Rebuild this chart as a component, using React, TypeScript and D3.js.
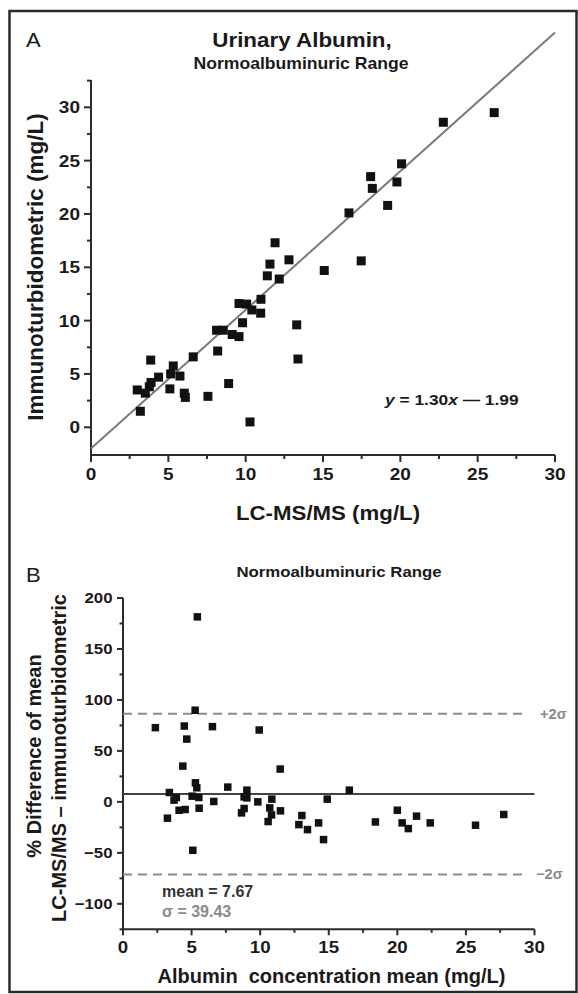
import React from 'react';
import * as d3 from 'd3';

// Panel A: LC-MS/MS vs immunoturbidometric (mg/L)
const aLcms = [2.99, 3.19, 3.51, 3.77, 3.88, 3.86, 4.37, 5.1, 5.15, 5.32, 5.75, 6.03, 6.1, 6.61, 7.56, 8.12, 8.19, 8.55, 8.9, 9.13, 9.57, 9.57, 9.8, 10.06, 10.28, 10.4, 10.97, 10.99, 11.4, 11.57, 11.9, 12.17, 12.8, 13.3, 13.38, 15.08, 16.68, 17.47, 18.08, 18.19, 19.18, 19.78, 20.08, 22.78, 26.07];
const aImmuno = [3.5, 1.5, 3.2, 3.8, 4.2, 6.3, 4.7, 3.6, 5.0, 5.75, 4.8, 3.2, 2.8, 6.6, 2.9, 9.1, 7.15, 9.1, 4.1, 8.7, 8.5, 11.6, 9.8, 11.55, 0.5, 11.0, 10.7, 12.0, 14.2, 15.3, 17.3, 13.9, 15.7, 9.6, 6.4, 14.7, 20.1, 15.6, 23.5, 22.4, 20.8, 23.0, 24.7, 28.6, 29.5];
const slope = 1.3;
const intercept = -1.99;

// Panel B: Bland-Altman
const bMean = [2.36, 3.24, 3.38, 3.72, 3.89, 4.09, 4.36, 4.47, 4.53, 4.65, 5.04, 5.09, 5.26, 5.28, 5.38, 5.53, 5.55, 5.42, 6.52, 6.62, 7.64, 8.64, 8.83, 8.83, 9.03, 9.03, 9.83, 9.93, 10.58, 10.7, 10.83, 10.85, 11.46, 11.48, 12.82, 13.04, 13.45, 14.26, 14.62, 14.89, 16.5, 18.4, 20.0, 20.35, 20.8, 21.4, 22.4, 25.7, 27.76];
const bDiff = [72.8, -16, 9.2, 1.7, 4.3, -8.2, 35.1, 74.4, -7.5, 61.6, 5.6, -47.5, 89.9, 18.7, 13.8, 4.3, -6.2, 181.5, 73.8, 0.4, 14.5, -10.8, 4.9, -6.5, 11.5, 3.9, 0, 70.5, -19.3, -5.9, -12.8, 2.7, 32.2, -8.8, -22.3, -13.4, -27.2, -20.6, -37, 2.7, 11.5, -19.7, -8.2, -20.6, -26.2, -14, -20.6, -22.9, -12.4];
const meanDiff = 7.67;
const sigma = 39.43;

const aXTicks = [0, 5, 10, 15, 20, 25, 30];
const aYTicks = [0, 5, 10, 15, 20, 25, 30];
const bXTicks = [0, 5, 10, 15, 20, 25, 30];
const bYTicks = [-100, -50, 0, 50, 100, 150, 200];

const FONT = '"Liberation Sans", Arial, Helvetica, sans-serif';

type TP = { x: number; y: number; s: number; k?: number; w?: string; anchor?: string; fill?: string; rot?: number; dy?: string; children?: any; pre?: boolean };
const T = ({ x, y, s, k = 1, w = 'bold', anchor = 'start', fill = '#1a1a1a', rot = 0, dy, children, pre }: TP) => (
  <text
    transform={`translate(${x},${y})${rot ? ` rotate(${rot})` : ''} scale(${k},1)`}
    fontSize={s}
    fontWeight={w}
    textAnchor={anchor as any}
    fill={fill}
    fontFamily={FONT}
    dy={dy}
    style={pre ? { whiteSpace: 'pre' } : undefined}
  >
    {children}
  </text>
);

export default function App() {
  const ax = d3.scaleLinear().domain([0, 30]).range([91, 555]);
  const ay = d3.scaleLinear().domain([-2.6, 32.56]).range([455, 80]);
  const bx = d3.scaleLinear().domain([0, 30]).range([123, 534.5]);
  const by = d3.scaleLinear().domain([-125, 200]).range([929.3, 598]);

  const axisColor = '#2b2b2b';
  const aXMinor = d3.range(0, 30.01, 2.5).filter((v) => !aXTicks.includes(v));
  const aYMinor = d3.range(0, 32.51, 2.5).filter((v) => !aYTicks.includes(v));
  const bXMinor = d3.range(0, 30.01, 2.5).filter((v) => !bXTicks.includes(v));
  const bYMinor = d3.range(-125, 200.01, 25).filter((v) => !bYTicks.includes(v));

  const regLine = d3.line()([
    [ax(0), ay(intercept)],
    [ax(30), ay(slope * 30 + intercept)],
  ]) as string;

  const aS = 9;
  const bS = 7.5;
  const up = meanDiff + 2 * sigma;
  const lo = meanDiff - 2 * sigma;

  return (
    <svg width={578} height={994} style={{ position: 'absolute', left: 0, top: 0, background: '#fff' }}>
      <rect x={0} y={0} width={578} height={994} fill="#fff" />
      <rect x={9.5} y={11} width={567} height={981} fill="none" stroke="#2a2a2a" strokeWidth={2.5} />

      {/* ---------- Panel A ---------- */}
      <T x={26} y={47} s={21} w="normal" k={1.05}>A</T>
      <T x={302} y={47} s={20} k={1.12} anchor="middle">Urinary Albumin,</T>
      <T x={301} y={68.5} s={16} k={1.1} anchor="middle">Normoalbuminuric Range</T>

      {/* axes */}
      <line x1={ax(0)} x2={ax(0)} y1={ay.range()[1]} y2={ay.range()[0]} stroke={axisColor} strokeWidth={2} />
      <line x1={ax(0)} x2={ax(30)} y1={ay.range()[0]} y2={ay.range()[0]} stroke={axisColor} strokeWidth={2} />
      {aXTicks.map((t) => (
        <g key={'axt' + t}>
          <line x1={ax(t)} x2={ax(t)} y1={455} y2={462} stroke={axisColor} strokeWidth={2} />
          <T x={ax(t)} y={480} s={17} k={1.12} anchor="middle">{t}</T>
        </g>
      ))}
      {aXMinor.map((t) => (
        <line key={'axm' + t} x1={ax(t)} x2={ax(t)} y1={455} y2={459} stroke={axisColor} strokeWidth={2} />
      ))}
      {aYTicks.map((t) => (
        <g key={'ayt' + t}>
          <line x1={ax(0) - 7} x2={ax(0)} y1={ay(t)} y2={ay(t)} stroke={axisColor} strokeWidth={2} />
          <T x={80} y={ay(t)} dy="0.36em" s={17} k={1.12} anchor="end">{t}</T>
        </g>
      ))}
      {aYMinor.map((t) => (
        <line key={'aym' + t} x1={ax(0) - 4} x2={ax(0)} y1={ay(t)} y2={ay(t)} stroke={axisColor} strokeWidth={2} />
      ))}
      <T x={328} y={520} s={21} k={1.06} anchor="middle">LC-MS/MS (mg/L)</T>
      <T x={43} y={267} s={22.5} rot={-90} anchor="middle">Immunoturbidometric (mg/L)</T>

      <path d={regLine} stroke="#7a7a7a" strokeWidth={2} fill="none" />
      {aLcms.map((v, i) => (
        <rect key={'ap' + i} x={ax(v) - aS / 2} y={ay(aImmuno[i]) - aS / 2} width={aS} height={aS} fill="#111" />
      ))}
      <T x={385} y={405} s={15.5} k={1.12}>
        <tspan fontStyle="italic">y</tspan> = 1.30<tspan fontStyle="italic">x</tspan> — 1.99
      </T>

      {/* ---------- Panel B ---------- */}
      <T x={26} y={582} s={21} w="normal" k={1.05}>B</T>
      <T x={339} y={577} s={15} k={1.12} anchor="middle">Normoalbuminuric Range</T>

      <line x1={bx(0)} x2={bx(0)} y1={by(200)} y2={by(-125)} stroke={axisColor} strokeWidth={2} />
      <line x1={bx(0)} x2={bx(30)} y1={by(-125)} y2={by(-125)} stroke={axisColor} strokeWidth={2} />
      {bXTicks.map((t) => (
        <g key={'bxt' + t}>
          <line x1={bx(t)} x2={bx(t)} y1={by(-125)} y2={by(-125) + 6} stroke={axisColor} strokeWidth={2} />
          <T x={bx(t)} y={953} s={17} k={1.1} anchor="middle">{t}</T>
        </g>
      ))}
      {bXMinor.map((t) => (
        <line key={'bxm' + t} x1={bx(t)} x2={bx(t)} y1={by(-125)} y2={by(-125) + 3.5} stroke={axisColor} strokeWidth={2} />
      ))}
      {bYTicks.map((t) => (
        <g key={'byt' + t}>
          <line x1={bx(0) - 6} x2={bx(0)} y1={by(t)} y2={by(t)} stroke={axisColor} strokeWidth={2} />
          <T x={112.5} y={by(t)} dy="0.36em" s={15} k={1.12} anchor="end">{t < 0 ? '\u2212' + Math.abs(t) : t}</T>
        </g>
      ))}
      {bYMinor.map((t) => (
        <line key={'bym' + t} x1={bx(0) - 3.5} x2={bx(0)} y1={by(t)} y2={by(t)} stroke={axisColor} strokeWidth={2} />
      ))}

      <line x1={bx(0)} x2={bx(29.5)} y1={by(up)} y2={by(up)} stroke="#8a8a8a" strokeWidth={2} strokeDasharray="9,6" />
      <line x1={bx(0)} x2={bx(29.5)} y1={by(lo)} y2={by(lo)} stroke="#8a8a8a" strokeWidth={2} strokeDasharray="9,6" />
      <line x1={bx(0)} x2={bx(30)} y1={by(meanDiff)} y2={by(meanDiff)} stroke="#444" strokeWidth={2} />
      <T x={bx(30) + 5.5} y={by(up)} dy="0.36em" s={14} k={1.05} fill="#8a8a8a">+2σ</T>
      <T x={bx(30) + 1.5} y={by(lo)} dy="0.36em" s={14} k={1.05} fill="#8a8a8a">−2σ</T>

      {bMean.map((v, i) => (
        <rect key={'bp' + i} x={bx(v) - bS / 2} y={by(bDiff[i]) - bS / 2} width={bS} height={bS} fill="#111" />
      ))}

      <T x={162} y={897} s={16} fill="#333">mean = {meanDiff.toFixed(2)}</T>
      <T x={162} y={917} s={16} fill="#8a8a8a">σ = {sigma.toFixed(2)}</T>

      <T x={331.5} y={983} s={20} pre anchor="middle">Albumin  concentration mean (mg/L)</T>
      <T x={41} y={756} s={20} rot={-90} anchor="middle">% Difference of mean</T>
      <T x={66} y={758} s={20} rot={-90} anchor="middle">LC-MS/MS – immunoturbidometric</T>
    </svg>
  );
}
